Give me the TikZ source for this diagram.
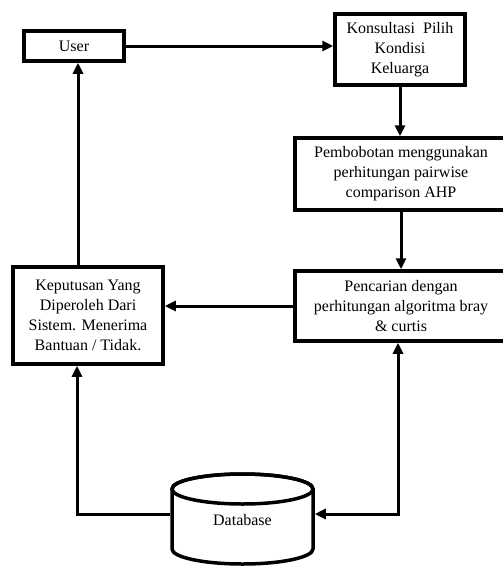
\documentclass[tikz,border=0pt]{standalone}
\usepackage{fontspec}
\setmainfont{Liberation Serif}
\usetikzlibrary{arrows.meta}

\begin{document}
\begin{tikzpicture}[
            > = {Triangle[length=11pt, width=10pt]}, % arrow head style
            x = 1pt, y = -1pt, % one unit per pixel, y going down
            line width = 3pt, % line style
            font = \fontsize{16}{20}\selectfont
        ]

        \tikzstyle{box}=[
            draw = black,
            line width = 3.5pt,
            fill = white,
            align = center,
            inner sep = 0pt
        ]

        \useasboundingbox (0,0) rectangle (503,568);

        % database drum, drawn by hand
        \draw[line width=3.5pt, fill=white] (172,489) -- (172,549)
            arc[start angle=180, end angle=0, x radius=70.5, y radius=15] -- (313,489)
            arc[start angle=0, end angle=-180, x radius=70.5, y radius=15] -- cycle;
        \draw[line width=3.5pt] (242.5,489) ellipse[x radius=70.5, y radius=15];

        \node[box, minimum width=100pt, minimum height=30pt] (user) at (74,46) {User};
        \node[box, minimum width=130pt, minimum height=71pt] (konsultasi) at (400,49.5) {Konsultasi\ \ Pilih\\Kondisi\\Keluarga};
        \node[box, minimum width=212pt, minimum height=72pt] (pembobotan) at (401,174) {Pembobotan menggunakan\\perhitungan pairwise\\comparison AHP};
        \node[box, minimum width=212pt, minimum height=70pt] (pencarian) at (401,306) {Pencarian dengan\\perhitungan algoritma bray\\\& curtis};
        \node[box, minimum width=150pt, minimum height=97pt] (keputusan) at (88,315.5) {Keputusan Yang\\Diperoleh Dari\\Sistem. Menerima\\Bantuan / Tidak.};
        \node[minimum width=141pt, minimum height=60pt, inner sep=0pt, outer sep=1.75pt] (db) at (242.5,520) {Database};

        \coordinate (up) at ([xshift=4pt]user.south);
        \coordinate (kin) at ([xshift=-11pt]keputusan.south);
        \coordinate (dbl) at ([yshift=6pt]db.west);
        \coordinate (dbr) at ([yshift=6pt]db.east);
        \coordinate (pout) at ([xshift=-3pt]pencarian.south);

        \draw[->] (user.east) -- (user.east -| konsultasi.west);
        \draw[->] (konsultasi.south) -- (konsultasi.south |- pembobotan.north);
        \draw[->] (pembobotan.south) -- (pembobotan.south |- pencarian.north);
        \draw[->] (pencarian.west) -- (pencarian.west -| keputusan.east);
        \draw[->] (up |- keputusan.north) -- (up);
        \draw[->] (dbl) -| (kin);
        \draw[<->] (dbr) -| (pout);

    \end{tikzpicture}
\end{document}
